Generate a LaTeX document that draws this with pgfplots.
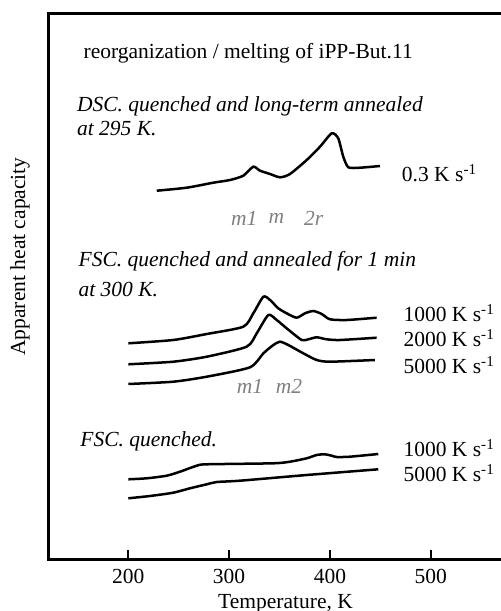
\documentclass[border=0pt]{standalone}
\usepackage{fontspec}
\setmainfont{Liberation Serif}
\usepackage{pgfplots}
\pgfplotsset{compat=1.18}

% 1 px of the reference = 0.6pt
\begin{document}
\fontsize{12.9}{15}\selectfont
\begin{tikzpicture}
\useasboundingbox (-29.4pt,-31.2pt) rectangle (270.6pt,335.4pt);
\begin{axis}[
    at={(0,0)}, anchor=south west,
    scale only axis,
    width=272.6pt, height=327.6pt,
    xmin=121.3, xmax=572.1,
    ymin=0, ymax=546,
    axis line style={line width=1.8pt},
    xtick={200,300,400,500},
    xtick pos=bottom,
    ytick=\empty,
    xtick align=inside,
    xtick style={draw=black, line width=1.2pt},
    major tick length=5.5pt,
    xticklabel style={anchor=base, yshift=-14.6pt},
    /pgf/number format/assume math mode=true,
    clip=false,
    curve/.style={black, solid, line width=1.5pt, smooth, tension=0.4, no markers},
]
% DSC 0.3 K/s
\addplot[curve] coordinates {
 (228.2,368.3) (257.9,371.3) (284.3,376.3) (300.9,379) (314.1,383.3)
 (324,392.3) (330.7,388.3) (340.6,385) (350.5,381.7) (360.4,385)
 (377,399) (390.2,412.3) (401.8,425.7) (408.3,420.7) (413.3,402.3)
 (418.3,391.7) (429.9,391.3) (449.7,393)
};
% FSC annealed 1000 K/s
\addplot[curve] coordinates {
 (200,215.7) (244.6,219) (277.8,225) (314.1,232.3) (324,245.7)
 (334,262.3) (340.6,259) (348.8,250.7) (357.1,245.7) (367,241.3)
 (375.3,245.7) (383.5,248) (391.9,245) (400.1,239.7) (416.7,239) (446.4,241.3)
};
% FSC annealed 2000 K/s
\addplot[curve] coordinates {
 (200,194.7) (244.6,197.3) (277.8,202.3) (317.4,212.3) (327.4,225.7)
 (338.9,244) (347.2,239) (357.1,230.7) (372,219) (378.6,219.7)
 (386.9,221.7) (396.8,219.7) (410,219) (446.4,221.3)
};
% FSC annealed 5000 K/s
\addplot[curve] coordinates {
 (200,175) (244.6,177.3) (277.8,182.3) (320.7,191.7) (334,205.7)
 (343.9,214) (350.5,217.3) (358.7,214) (373.6,205.7) (386.9,199)
 (400.1,197.3) (444.7,199)
};
% FSC quenched 1000 K/s
\addplot[curve] coordinates {
 (200,79.7) (218.3,80.7) (238.1,83.3) (251.3,87.3) (267.9,93.3)
 (277.8,94.7) (343.9,95.7) (360.4,97.3) (377,100.7) (386.9,104)
 (395.1,104.7) (401.8,103.3) (406.7,102) (419.9,102.3) (448,105)
};
% FSC quenched 5000 K/s
\addplot[curve] coordinates {
 (200,60.7) (221.5,63) (244.6,66.3) (261.2,70.7) (277.8,74.7)
 (287.7,77) (310.8,78.3) (377,84) (448,89.7)
};

% tick marks pointing up from the bottom line
\pgfplotsinvokeforeach{200,300,400,500}{
  \draw[line width=1.2pt] (axis cs:#1,0) -- (axis cs:#1,9.2);
}

\node[anchor=west, inner sep=0] at (axis cs:155.4,505.7) {reorganization / melting of iPP-But.11};
\node[anchor=west, inner sep=0] at (axis cs:148.8,452.3) {\textit{DSC. quenched and long-term annealed}};
\node[anchor=west, inner sep=0] at (axis cs:148.8,430.7) {\textit{at 295 K.}};
\node[anchor=west, inner sep=0] at (axis cs:471.2,386) {0.3 K s\textsuperscript{-1}};
\node[gray, inner sep=0] at (axis cs:315,341) {\textit{m1}};
\node[gray, inner sep=0] at (axis cs:347,341) {\textit{m}};
\node[gray, inner sep=0] at (axis cs:384,341) {\textit{2r}};

\node[anchor=west, inner sep=0] at (axis cs:150.4,297.3) {\textit{FSC. quenched and annealed for 1 min}};
\node[anchor=west, inner sep=0] at (axis cs:150.4,269) {\textit{at 300 K.}};
\node[anchor=west, inner sep=0] at (axis cs:472.8,245.7) {1000 K s\textsuperscript{-1}};
\node[anchor=west, inner sep=0] at (axis cs:472.8,220.7) {2000 K s\textsuperscript{-1}};
\node[anchor=west, inner sep=0] at (axis cs:472.8,194) {5000 K s\textsuperscript{-1}};
\node[gray, inner sep=0] at (axis cs:320.7,172.3) {\textit{m1}};
\node[gray, inner sep=0] at (axis cs:359.4,172.3) {\textit{m2}};

\node[anchor=west, inner sep=0] at (axis cs:152.1,117.3) {\textit{FSC. quenched.}};
\node[anchor=west, inner sep=0] at (axis cs:472.8,110.7) {1000 K s\textsuperscript{-1}};
\node[anchor=west, inner sep=0] at (axis cs:472.8,85.7) {5000 K s\textsuperscript{-1}};

\node[rotate=90, anchor=base, inner sep=0] at (axis cs:97.5,302.5) {Apparent heat capacity};
\node[anchor=base, inner sep=0] at (axis cs:356,-49.3) {Temperature, K};
\end{axis}
\end{tikzpicture}
\end{document}
